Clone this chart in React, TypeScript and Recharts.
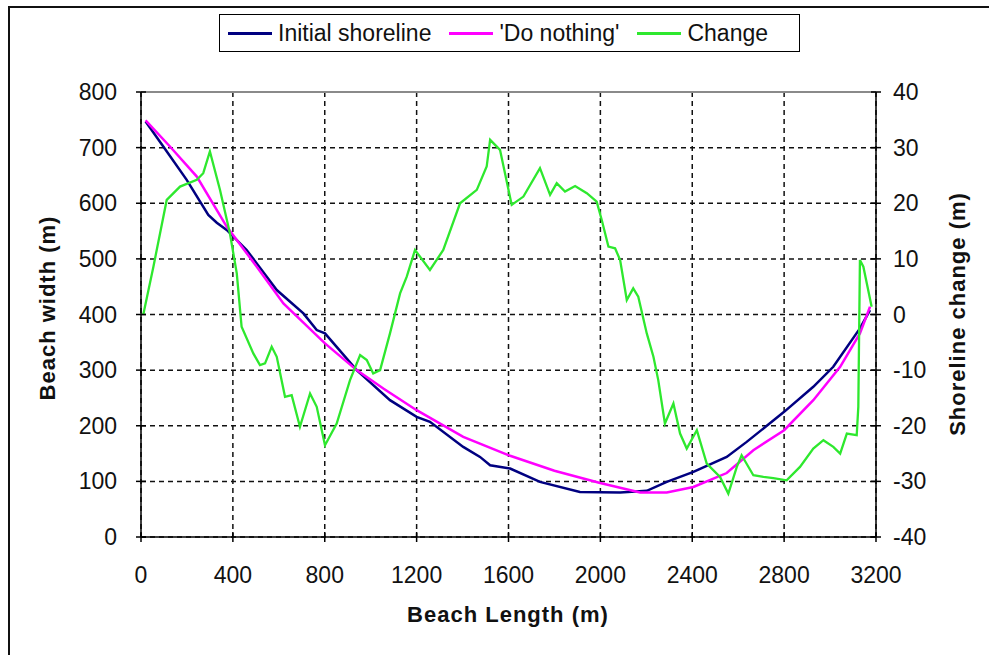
import React from 'react';
import { LineChart, Line, XAxis, YAxis, CartesianGrid, Legend, ReferenceLine, Label } from 'recharts';

const xTicks = [0, 400, 800, 1200, 1600, 2000, 2400, 2800, 3200];
const leftTicks = [0, 100, 200, 300, 400, 500, 600, 700, 800];
const rightTicks = [-40, -30, -20, -10, 0, 10, 20, 30, 40];
const seriesNames = ['Initial shoreline', "'Do nothing'", 'Change'];

const initialX = [20, 97, 199, 293, 330, 373, 460, 591, 707, 765, 801, 939, 1084, 1200, 1258, 1403, 1476, 1520, 1607, 1737, 1911, 2086, 2202, 2289, 2405, 2550, 2637, 2800, 2927, 3014, 3130, 3174];
const initialY = [747, 702, 642, 579, 565, 552, 516, 444, 402, 372, 366, 300, 246, 216, 207, 162, 144, 129, 123, 99, 81, 80, 83, 99, 117, 144, 171, 225, 270, 306, 375, 408];

const nothingX = [20, 126, 243, 373, 504, 620, 801, 939, 1055, 1200, 1403, 1607, 1800, 1999, 2173, 2289, 2405, 2550, 2666, 2800, 2927, 3044, 3130, 3174];
const nothingY = [749, 702, 648, 558, 486, 420, 348, 300, 267, 228, 180, 146, 119, 97, 80, 80, 90, 115, 156, 192, 246, 306, 366, 414];

const changeX = [10, 54, 112, 170, 243, 271, 300, 344, 387, 417, 438, 489, 518, 540, 569, 591, 627, 656, 692, 736, 765, 801, 852, 910, 954, 983, 1011, 1041, 1084, 1128, 1157, 1193, 1258, 1316, 1389, 1462, 1505, 1520, 1563, 1614, 1665, 1737, 1781, 1810, 1846, 1890, 1941, 1984, 2006, 2035, 2064, 2086, 2115, 2143, 2165, 2202, 2231, 2252, 2281, 2318, 2347, 2376, 2420, 2463, 2521, 2557, 2594, 2615, 2666, 2710, 2753, 2811, 2869, 2927, 2971, 3014, 3044, 3073, 3116, 3123, 3130, 3145, 3181];
const changeY = [0, 8.6, 20.6, 23, 24.2, 25.4, 29.3, 22.4, 14.6, 7.4, -2.2, -7, -9.1, -8.8, -5.8, -7.6, -14.8, -14.5, -20.2, -14.2, -16.6, -23.5, -19.6, -11.8, -7.3, -8.2, -10.6, -10, -3.4, 3.8, 6.8, 11.6, 8, 11.6, 20, 22.4, 26.6, 31.4, 29.6, 19.7, 21.2, 26.3, 21.5, 23.6, 22.1, 23.1, 21.8, 20.3, 17, 12.2, 11.9, 9.8, 2.6, 4.7, 3.2, -3.4, -7.6, -11.8, -19.6, -16, -21.4, -24.1, -20.8, -26.8, -29.2, -32.2, -27.4, -25.3, -28.9, -29.2, -29.4, -29.8, -27.4, -24.1, -22.6, -23.8, -25, -21.4, -21.7, -16.6, 9.8, 8.6, 1.4];

const initialData = initialX.map((x, i) => ({ x, y: initialY[i] }));
const nothingData = nothingX.map((x, i) => ({ x, y: nothingY[i] }));
const changeData = changeX.map((x, i) => ({ x, y: changeY[i] }));

const FONT = "'Liberation Sans', Arial, sans-serif";

const LeftTick = (props: any) => {
  const { x, y, payload } = props;
  return (
    <g>
      <line x1={x - 5} x2={x + 5} y1={y} y2={y} stroke="#000" strokeWidth={1.5} />
      <text x={x - 24} y={y} textAnchor="end" dominantBaseline="central" fontFamily={FONT} fontSize={23} fill="#111">{payload.value}</text>
    </g>
  );
};

const RightTick = (props: any) => {
  const { x, y, payload } = props;
  return (
    <g>
      <line x1={x - 5} x2={x + 5} y1={y} y2={y} stroke="#000" strokeWidth={1.5} />
      <text x={x + 17} y={y} textAnchor="start" dominantBaseline="central" fontFamily={FONT} fontSize={23} fill="#111">{payload.value}</text>
    </g>
  );
};

const BottomTick = (props: any) => {
  const { x, y, payload } = props;
  return (
    <g>
      <line x1={x} x2={x} y1={y - 5} y2={y + 5} stroke="#000" strokeWidth={1.5} />
      <text x={x} y={y + 38} textAnchor="middle" dominantBaseline="central" fontFamily={FONT} fontSize={23} fill="#111">{payload.value}</text>
    </g>
  );
};

const LegendBox = (props: any) => {
  const payload = [...(props.payload || [])].sort(
    (a: any, b: any) => seriesNames.indexOf(a.value) - seriesNames.indexOf(b.value)
  );
  return (
    <div style={{ width: 571, height: 36, border: '1px solid #000', background: '#fff', display: 'flex', alignItems: 'center', paddingLeft: 8, boxSizing: 'content-box', fontFamily: FONT, fontSize: 23, color: '#111', whiteSpace: 'nowrap' }}>
      {payload.map((p: any, i: number) => (
        <div key={i} style={{ display: 'flex', alignItems: 'center', marginRight: 18 }}>
          <div style={{ width: 44, height: 3, background: p.color, marginRight: 6 }} />
          <span>{p.value}</span>
        </div>
      ))}
    </div>
  );
};

export default function App() {
  return (
    <div style={{ position: 'absolute', left: 0, top: 0, width: 989, height: 655, background: '#fff' }}>
      <div style={{ position: 'absolute', left: 8, top: 6, width: 1000, height: 700, borderLeft: '2px solid #111', borderTop: '2px solid #111' }} />
      <div style={{ position: 'absolute', left: 0, top: 0 }}>
        <LineChart width={989} height={655} margin={{ top: 92, right: 53, bottom: 58, left: 81 }}>
          <CartesianGrid yAxisId="left" stroke="#111" strokeDasharray="5 4" strokeWidth={1.5} />
          <XAxis
            dataKey="x"
            type="number"
            domain={[0, 3200]}
            ticks={xTicks}
            allowDataOverflow
            height={60}
            tickSize={0}
            tickMargin={0}
            tickLine={false}
            tick={<BottomTick />}
            axisLine={{ stroke: '#000', strokeWidth: 1.5 }}
            interval={0}
          >
            <Label
              content={() => (
                <text x={508} y={614} textAnchor="middle" dominantBaseline="central" fontFamily={FONT} fontSize={22} fontWeight="bold" letterSpacing={1} fill="#111">Beach Length (m)</text>
              )}
            />
          </XAxis>
          <YAxis
            yAxisId="left"
            domain={[0, 800]}
            ticks={leftTicks}
            width={60}
            tickSize={0}
            tickMargin={0}
            tickLine={false}
            tick={<LeftTick />}
            axisLine={{ stroke: '#000', strokeWidth: 1.5 }}
            interval={0}
          >
            <Label
              content={() => (
                <text x={47} y={308} transform="rotate(-90 47 308)" textAnchor="middle" dominantBaseline="central" fontFamily={FONT} fontSize={22} fontWeight="bold" letterSpacing={1} fill="#111">Beach width (m)</text>
              )}
            />
          </YAxis>
          <YAxis
            yAxisId="right"
            orientation="right"
            domain={[-40, 40]}
            ticks={rightTicks}
            width={60}
            tickSize={0}
            tickMargin={0}
            tickLine={false}
            tick={<RightTick />}
            axisLine={{ stroke: '#000', strokeWidth: 1.5 }}
            interval={0}
          >
            <Label
              content={() => (
                <text x={957} y={314} transform="rotate(-90 957 314)" textAnchor="middle" dominantBaseline="central" fontFamily={FONT} fontSize={22} fontWeight="bold" letterSpacing={1} fill="#111">Shoreline change (m)</text>
              )}
            />
          </YAxis>
          <ReferenceLine yAxisId="left" y={800} stroke="#8a8a8a" strokeWidth={2} />
          <Legend
            layout="vertical"
            align="center"
            verticalAlign="middle"
            wrapperStyle={{ left: 219, top: 14 }}
            content={<LegendBox />}
          />
          <Line
            yAxisId="left"
            data={initialData}
            dataKey="y"
            name="Initial shoreline"
            type="linear"
            stroke="#000080"
            strokeWidth={2.5}
            dot={false}
            isAnimationActive={false}
          />
          <Line
            yAxisId="left"
            data={nothingData}
            dataKey="y"
            name="'Do nothing'"
            type="linear"
            stroke="#ff00ff"
            strokeWidth={2.5}
            dot={false}
            isAnimationActive={false}
          />
          <Line
            yAxisId="right"
            data={changeData}
            dataKey="y"
            name="Change"
            type="linear"
            stroke="#2ee82e"
            strokeWidth={2.3}
            dot={false}
            isAnimationActive={false}
          />
        </LineChart>
      </div>
    </div>
  );
}
